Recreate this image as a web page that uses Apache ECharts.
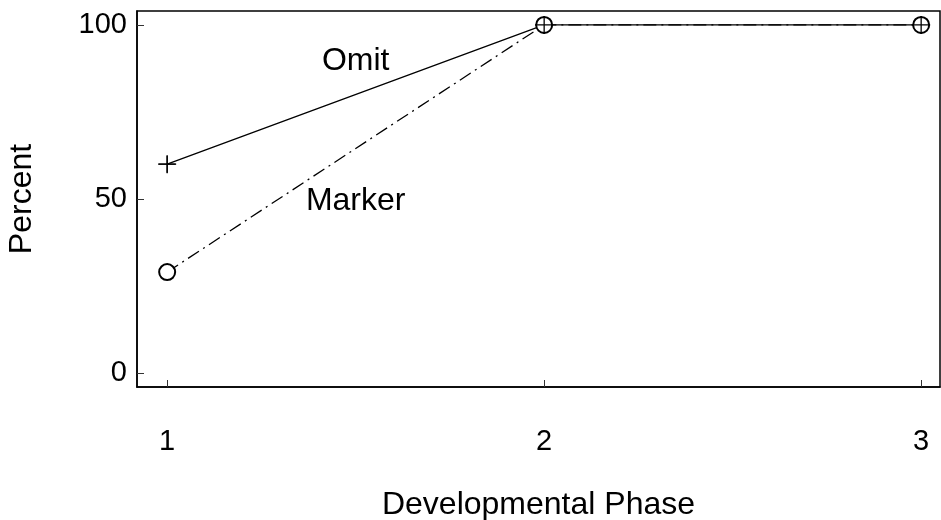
<!DOCTYPE html>
<html><head><meta charset="utf-8">
<script src="https://cdn.jsdelivr.net/npm/echarts@6/dist/echarts.min.js"></script>
<style>html,body{margin:0;padding:0;background:#fff}#c{width:941px;height:520px}</style>
</head><body><div id="c"></div>
<script>
const phases = [1, 2, 3];
const omitValues = [60, 100, 100];
const markerValues = [29, 100, 100];
const yTicks = [0, 50, 100];
const annotations = [
  {name: 'Omit', x: 1.50, y: 89.5},
  {name: 'Marker', x: 1.50, y: 49.4}
];
const FONT = '"Liberation Sans", Arial, sans-serif';
const chart = echarts.init(document.getElementById('c'));
const plusPath = 'path://M0,-10L0,10M-10,0L10,0';
chart.setOption({
  animation: false,
  textStyle: {fontFamily: FONT},
  grid: {left: 137, right: 1, top: 11, bottom: 133, containLabel: false, outerBoundsMode: 'none'},
  xAxis: {
    type: 'value', min: 0.92, max: 3.05,
    name: 'Developmental Phase', nameLocation: 'middle', nameGap: 102,
    nameTextStyle: {fontSize: 32, color: '#000', fontFamily: FONT},
    axisLine: {show: true, onZero: false, lineStyle: {color: '#000', width: 1.5}},
    axisTick: {show: true, inside: true, length: 7, lineStyle: {color: '#333'}, customValues: phases},
    axisLabel: {fontSize: 29, color: '#000', margin: 40, fontFamily: FONT, customValues: phases},
    splitLine: {show: false}
  },
  yAxis: {
    type: 'value', min: -4, max: 104,
    name: 'Percent', nameLocation: 'middle', nameGap: 99, nameRotate: 90,
    nameTextStyle: {fontSize: 32, color: '#000', fontFamily: FONT},
    axisLine: {show: true, onZero: false, lineStyle: {color: '#000', width: 1.5}},
    axisTick: {show: true, inside: true, length: 7, lineStyle: {color: '#333'}, customValues: yTicks},
    axisLabel: {fontSize: 29, color: '#000', margin: 10, fontFamily: FONT, customValues: yTicks},
    splitLine: {show: false}
  },
  graphic: [{type: 'rect', shape: {x: 137, y: 11, width: 803, height: 376}, style: {fill: 'none', stroke: '#000', lineWidth: 1.5}, silent: true}],
  series: [
    {
      type: 'line', name: 'Omit',
      data: phases.map((p, i) => [p, omitValues[i]]),
      lineStyle: {color: '#000', width: 1.3, type: 'solid'},
      symbol: plusPath, symbolSize: 18, showAllSymbol: true,
      itemStyle: {color: 'none', borderColor: '#000', borderWidth: 1.3}
    },
    {
      type: 'line', name: 'Marker',
      data: phases.map((p, i) => [p, markerValues[i]]),
      lineStyle: {color: '#000', width: 1.3, type: [13, 5, 2, 5]},
      symbol: 'emptyCircle', symbolSize: 16, showAllSymbol: true,
      itemStyle: {color: '#000', borderColor: '#000', borderWidth: 1.3}
    },
    {
      type: 'line', name: 'Omit2', z: 5,
      data: phases.map((p, i) => [p, omitValues[i]]),
      lineStyle: {width: 0}, symbol: plusPath, symbolSize: 17,
      itemStyle: {color: 'none', borderColor: '#000', borderWidth: 1.3}
    },
    {
      type: 'scatter', symbolSize: 0,
      itemStyle: {opacity: 1, color: '#000'},
      data: annotations.map(a => ({value: [a.x, a.y], name: a.name})),
      label: {show: true, formatter: '{b}', position: 'inside', fontSize: 32, color: '#000', opacity: 1, textBorderWidth: 0, fontFamily: FONT}
    }
  ]
});
</script></body></html>
